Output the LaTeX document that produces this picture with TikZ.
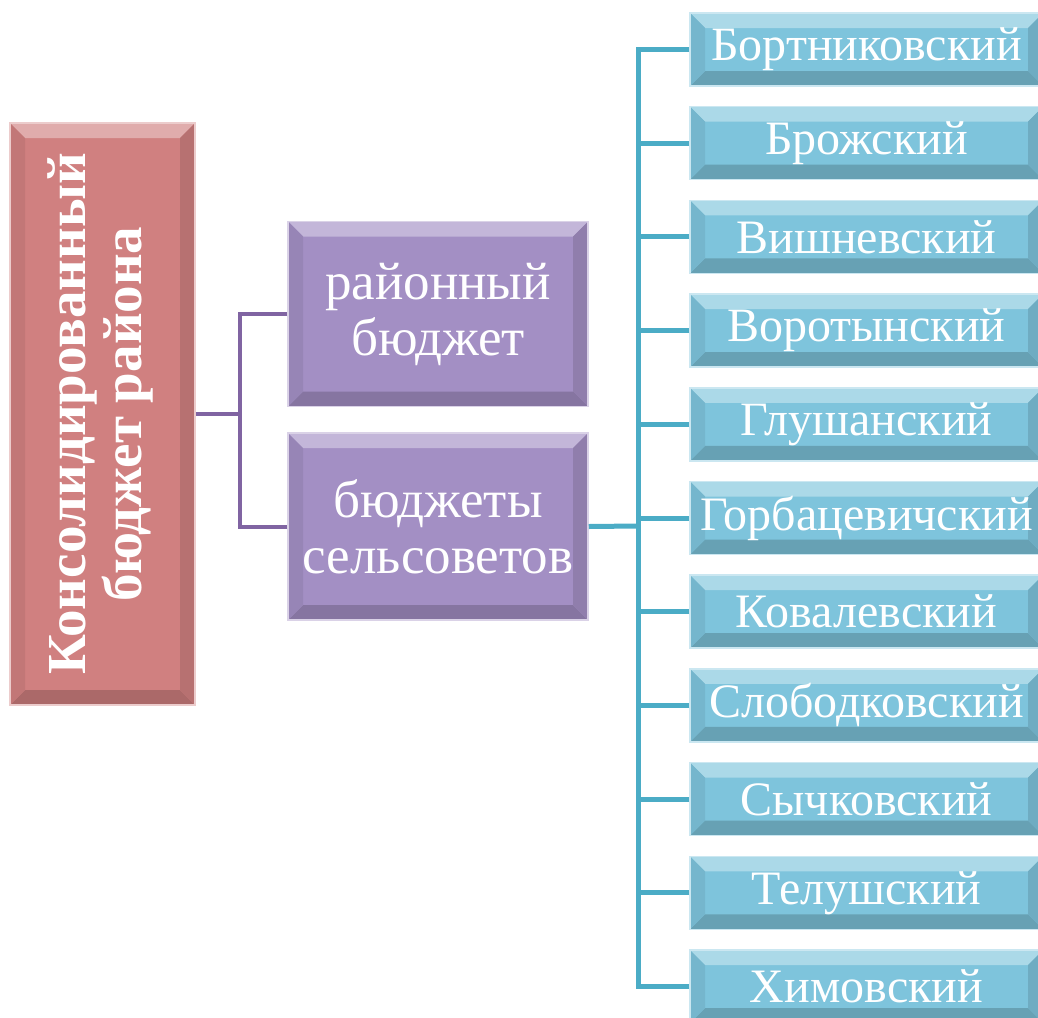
\documentclass[tikz,border=0pt]{standalone}
\usepackage{fontspec}
\setmainfont{Liberation Serif}
\usetikzlibrary{calc}
\definecolor{redf}{RGB}{208,128,128}
\definecolor{purf}{RGB}{163,143,196}
\definecolor{bluf}{RGB}{126,196,220}
\definecolor{purl}{RGB}{128,100,162}
\definecolor{blul}{RGB}{75,172,198}
\tikzset{
  bevel/.style={path picture={
    \path (path picture bounding box.south west) coordinate (@sw)
          (path picture bounding box.north east) coordinate (@ne);
    \fill[#1!65!white] (@sw|-@ne) -- (@ne) -- ($(@ne)+(-15pt,-15pt)$) -- ($(@sw|-@ne)+(15pt,-15pt)$) -- cycle;
    \fill[#1!82!black] (@sw) -- (@sw-|@ne) -- ($(@sw-|@ne)+(-15pt,15pt)$) -- ($(@sw)+(15pt,15pt)$) -- cycle;
    \fill[#1!88!black] (@ne) -- (@sw-|@ne) -- ($(@sw-|@ne)+(-15pt,15pt)$) -- ($(@ne)+(-15pt,-15pt)$) -- cycle;
    \fill[#1!93!black] (@sw) -- (@sw|-@ne) -- ($(@sw|-@ne)+(15pt,-15pt)$) -- ($(@sw)+(15pt,15pt)$) -- cycle;
  }},
  box/.style={inner sep=0pt, align=center, text=white,
    font=\fontsize{48}{55}\selectfont,
    fill=#1, draw=#1!40!white, line width=1.5pt, bevel=#1},
  redbox/.style={box=redf, minimum width=185pt, minimum height=582pt,
    font=\bfseries\fontsize{55}{56}\selectfont},
  purbox/.style={box=purf, minimum width=300pt, minimum height=185pt,
    font=\fontsize{53}{56}\selectfont},
  blubox/.style={box=bluf, minimum width=353pt, minimum height=73pt},
  purline/.style={draw=purl, line width=4pt},
  bluline/.style={draw=blul, line width=5pt},
}
\begin{document}
\begin{tikzpicture}[x=1pt,y=-1pt]
\useasboundingbox (0,0) rectangle (1038,1017);
\clip (0,0) rectangle (1038,1017);
\node[redbox] (root) at (102.5,414) {\rotatebox{90}{\begin{tabular}{@{}c@{}}Консолидированный\\бюджет района\end{tabular}}};
\node[purbox] (rb) at (438,314) {районный\\бюджет};
\node[purbox, minimum height=187pt] (sb) at (438,526.5) {бюджеты\\сельсоветов};
\coordinate (pj) at (240,414);
\coordinate (bj) at (638,526);
\draw[purline] (root.east) -- (pj);
\draw[purline] (rb.west) -| (pj);
\draw[purline] (sb.west) -| (pj);
\draw[bluline] (sb.east) -- (bj);
\foreach \t [count=\i from 0] in {Бортниковский,Брожский,Вишневский,Воротынский,Глушанский,Горбацевичский,Ковалевский,Слободковский,Сычковский,Телушский,Химовский}{
  \node[blubox] (b\i) at (866.5,49.5+93.7*\i) {\t};
  \draw[bluline] (b\i.west) -| (bj);
}
\end{tikzpicture}
\end{document}
